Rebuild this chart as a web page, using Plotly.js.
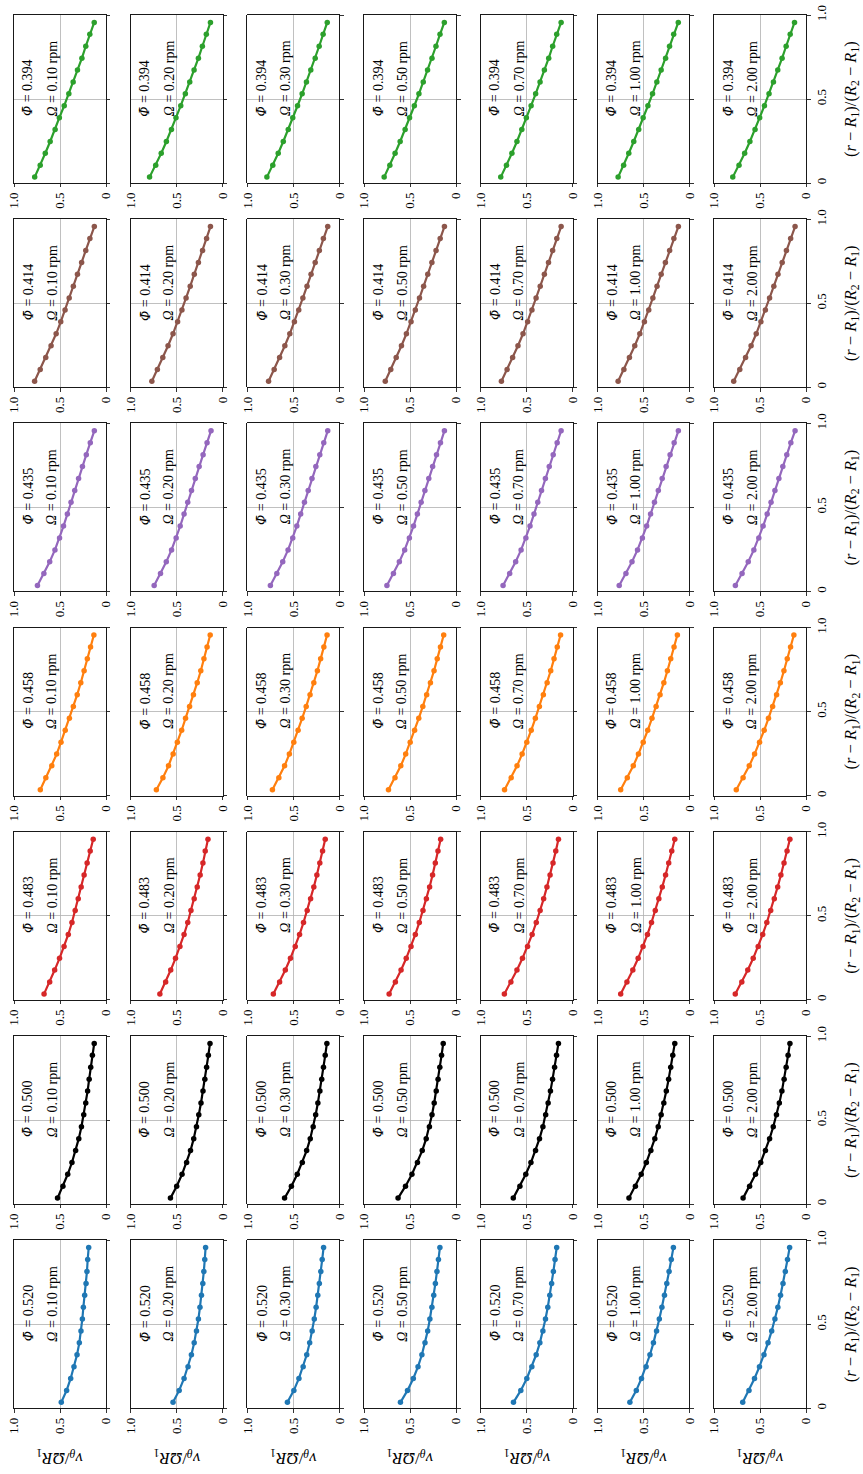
<!DOCTYPE html>
<html>
<head>
<meta charset="utf-8">
<script src="https://cdn.plot.ly/plotly-3.0.1.min.js"></script>
<style>
html,body{margin:0;padding:0;background:#fff;}
#chart{width:863px;height:1474px;}
</style>
</head>
<body>
<div id="chart"></div>
<script>
// radial positions (r - R1)/(R2 - R1) of the measured points
const rPos = [0.035,0.106,0.177,0.247,0.318,0.389,0.460,0.531,0.601,0.672,0.743,0.814,0.885,0.956];
const rTickVals = [0, 0.5, 1];
const rTickText = ['0', '0.5', '1.0'];
const vTickVals = [0, 0.5, 1];
const vTickText = ['0', '0.5', '1.0'];
const omegaLabels = ['0.10','0.20','0.30','0.50','0.70','1.00','2.00'];
const phiLabels = ['0.394','0.414','0.435','0.458','0.483','0.500','0.520'];
const rowColors = ['#2ca02c','#8c564b','#9467bd','#ff7f0e','#d62728','#000000','#1f77b4'];

// v_theta / (Omega R1), one list per Omega (0.10 ... 2.00 rpm)
const v_phi0394 = [
  [0.775,0.715,0.660,0.607,0.553,0.507,0.454,0.404,0.357,0.310,0.262,0.220,0.176,0.128],
  [0.795,0.728,0.668,0.612,0.557,0.508,0.456,0.406,0.358,0.311,0.264,0.221,0.178,0.133],
  [0.788,0.724,0.665,0.610,0.556,0.507,0.455,0.405,0.358,0.311,0.263,0.220,0.177,0.132],
  [0.782,0.720,0.663,0.608,0.554,0.506,0.454,0.404,0.357,0.310,0.262,0.219,0.175,0.128],
  [0.783,0.721,0.662,0.607,0.554,0.505,0.453,0.404,0.356,0.309,0.262,0.219,0.175,0.127],
  [0.776,0.716,0.660,0.606,0.552,0.504,0.452,0.402,0.355,0.308,0.260,0.217,0.172,0.122],
  [0.798,0.730,0.669,0.612,0.556,0.506,0.454,0.404,0.356,0.309,0.262,0.218,0.174,0.127]
];
const v_phi0414 = [
  [0.776,0.715,0.655,0.597,0.542,0.492,0.445,0.400,0.355,0.310,0.265,0.220,0.175,0.127],
  [0.770,0.710,0.651,0.594,0.540,0.490,0.443,0.398,0.353,0.309,0.264,0.219,0.175,0.133],
  [0.770,0.709,0.650,0.593,0.539,0.489,0.442,0.397,0.352,0.308,0.263,0.218,0.174,0.127],
  [0.770,0.710,0.651,0.594,0.540,0.490,0.443,0.398,0.353,0.308,0.263,0.218,0.173,0.127],
  [0.776,0.714,0.654,0.596,0.541,0.491,0.444,0.399,0.354,0.309,0.264,0.219,0.174,0.127],
  [0.776,0.713,0.653,0.595,0.540,0.490,0.443,0.398,0.353,0.308,0.262,0.216,0.170,0.121],
  [0.788,0.722,0.659,0.599,0.543,0.492,0.444,0.398,0.352,0.307,0.261,0.215,0.169,0.121]
];
const v_phi0435 = [
  [0.745,0.675,0.612,0.555,0.505,0.462,0.420,0.380,0.340,0.298,0.256,0.214,0.171,0.127],
  [0.745,0.676,0.613,0.556,0.506,0.462,0.420,0.380,0.339,0.298,0.256,0.213,0.170,0.127],
  [0.750,0.680,0.616,0.558,0.507,0.463,0.421,0.380,0.339,0.298,0.256,0.213,0.170,0.127],
  [0.752,0.681,0.617,0.559,0.508,0.463,0.421,0.380,0.339,0.297,0.255,0.213,0.170,0.127],
  [0.758,0.686,0.621,0.562,0.510,0.465,0.422,0.381,0.340,0.298,0.256,0.213,0.170,0.127],
  [0.764,0.691,0.625,0.565,0.512,0.466,0.423,0.381,0.339,0.297,0.254,0.211,0.167,0.121],
  [0.770,0.697,0.630,0.569,0.515,0.468,0.424,0.382,0.340,0.297,0.254,0.211,0.167,0.121]
];
const v_phi0458 = [
  [0.714,0.654,0.589,0.536,0.489,0.443,0.398,0.355,0.313,0.274,0.238,0.203,0.168,0.132],
  [0.721,0.650,0.589,0.539,0.493,0.446,0.404,0.360,0.318,0.277,0.238,0.204,0.170,0.136],
  [0.728,0.658,0.596,0.544,0.496,0.449,0.405,0.361,0.319,0.278,0.239,0.204,0.169,0.134],
  [0.735,0.664,0.601,0.548,0.499,0.451,0.406,0.362,0.320,0.279,0.240,0.205,0.170,0.135],
  [0.742,0.670,0.606,0.551,0.500,0.452,0.407,0.363,0.320,0.279,0.240,0.204,0.169,0.133],
  [0.748,0.676,0.611,0.555,0.503,0.454,0.408,0.363,0.320,0.279,0.240,0.204,0.168,0.132],
  [0.760,0.686,0.619,0.561,0.507,0.457,0.410,0.365,0.322,0.281,0.242,0.206,0.170,0.134]
];
const v_phi0483 = [
  [0.673,0.612,0.558,0.505,0.456,0.410,0.370,0.335,0.302,0.270,0.238,0.205,0.172,0.139],
  [0.683,0.620,0.565,0.513,0.465,0.420,0.380,0.345,0.310,0.277,0.245,0.215,0.190,0.160],
  [0.718,0.650,0.588,0.532,0.480,0.433,0.390,0.350,0.313,0.278,0.245,0.213,0.183,0.154],
  [0.728,0.660,0.598,0.542,0.490,0.443,0.400,0.360,0.323,0.288,0.256,0.226,0.197,0.168],
  [0.744,0.673,0.607,0.547,0.492,0.442,0.397,0.355,0.317,0.281,0.247,0.215,0.185,0.156],
  [0.748,0.680,0.616,0.558,0.505,0.457,0.413,0.372,0.333,0.296,0.260,0.226,0.193,0.160],
  [0.771,0.700,0.635,0.576,0.522,0.473,0.428,0.386,0.347,0.310,0.275,0.241,0.208,0.177]
];
const v_phi0500 = [
  [0.527,0.468,0.416,0.370,0.330,0.296,0.267,0.242,0.220,0.200,0.183,0.166,0.148,0.128],
  [0.568,0.500,0.442,0.392,0.350,0.315,0.285,0.260,0.236,0.214,0.194,0.175,0.156,0.138],
  [0.596,0.522,0.458,0.403,0.356,0.317,0.285,0.258,0.234,0.212,0.192,0.173,0.154,0.136],
  [0.631,0.550,0.480,0.420,0.368,0.325,0.290,0.262,0.238,0.216,0.196,0.177,0.158,0.140],
  [0.647,0.575,0.511,0.455,0.405,0.362,0.325,0.295,0.268,0.243,0.220,0.198,0.177,0.156],
  [0.658,0.588,0.525,0.469,0.420,0.377,0.340,0.308,0.279,0.252,0.227,0.204,0.182,0.160],
  [0.686,0.615,0.551,0.494,0.443,0.398,0.358,0.323,0.292,0.264,0.240,0.218,0.197,0.177]
];
const v_phi0520 = [
  [0.486,0.428,0.384,0.348,0.315,0.290,0.272,0.257,0.246,0.232,0.217,0.207,0.199,0.188],
  [0.540,0.473,0.420,0.377,0.340,0.310,0.285,0.264,0.247,0.231,0.216,0.205,0.195,0.186],
  [0.565,0.495,0.440,0.394,0.355,0.323,0.296,0.273,0.253,0.235,0.218,0.202,0.187,0.172],
  [0.605,0.528,0.465,0.414,0.372,0.338,0.309,0.285,0.263,0.243,0.225,0.208,0.192,0.176],
  [0.645,0.565,0.500,0.445,0.398,0.358,0.325,0.297,0.272,0.250,0.230,0.211,0.193,0.175],
  [0.648,0.578,0.522,0.472,0.430,0.392,0.358,0.328,0.300,0.272,0.247,0.222,0.198,0.175],
  [0.690,0.622,0.562,0.508,0.459,0.415,0.375,0.340,0.308,0.279,0.252,0.227,0.203,0.180]
];
const vRows = [v_phi0394, v_phi0414, v_phi0435, v_phi0458, v_phi0483, v_phi0500, v_phi0520];

// ---- geometry (pixels of the 863 x 1474 page) ----
const W = 863, H = 1474;
const colX0 = 14, colPitch = 116.7, colW = 92;
const rowY0 = 15, rowPitch = 204.2, rowH = 168;
const serif = '"Liberation Serif", "Times New Roman", serif';
const phiGlyph = '<span style="font-family:\'DejaVu Serif\';font-style:italic;font-size:12.5px">Φ̄</span>';

const traces = [];
const layout = {
  width: W, height: H,
  margin: {l: 0, r: 0, t: 0, b: 0, pad: 0},
  paper_bgcolor: '#ffffff', plot_bgcolor: '#ffffff',
  showlegend: false,
  font: {family: serif, size: 13, color: '#000'},
  annotations: []
};

for (let i = 0; i < 7; i++) {
  for (let k = 0; k < 7; k++) {
    const n = i * 7 + k + 1;
    const xs = n === 1 ? '' : String(n);
    const x0 = (colX0 + colPitch * k) / W;
    const x1 = (colX0 + colPitch * k + colW) / W;
    const top = rowY0 + rowPitch * i;
    const y1 = 1 - top / H;
    const y0 = 1 - (top + rowH) / H;
    layout['xaxis' + xs] = {
      domain: [x0, x1], anchor: 'y' + xs, range: [1, 0],
      tickmode: 'array', tickvals: vTickVals, ticktext: vTickText,
      tickangle: -90, ticks: 'outside', ticklen: 3.5, tickwidth: 0.8, tickcolor: '#000',
      showline: true, mirror: true, linecolor: '#000', linewidth: 0.9,
      showgrid: true, gridcolor: '#b0b0b0', gridwidth: 0.8, zeroline: false,
      tickfont: {family: serif, size: 13, color: '#000'}, fixedrange: true
    };
    const yax = {
      domain: [y0, y1], anchor: 'x' + xs, range: [0, 1], side: 'right',
      tickmode: 'array', tickvals: rTickVals,
      ticks: 'outside', ticklen: 3.5, tickwidth: 0.8, tickcolor: '#000',
      showline: true, mirror: true, linecolor: '#000', linewidth: 0.9,
      showgrid: true, gridcolor: '#b0b0b0', gridwidth: 0.8, zeroline: false,
      fixedrange: true
    };
    if (k === 6) {
      yax.ticktext = rTickText;
      yax.showticklabels = true;
      yax.tickangle = -90;
      yax.tickfont = {family: serif, size: 13, color: '#000'};
    } else {
      yax.showticklabels = false;
    }
    layout['yaxis' + xs] = yax;
    traces.push({
      type: 'scatter', mode: 'lines+markers',
      x: vRows[i][k], y: rPos,
      xaxis: 'x' + xs, yaxis: 'y' + xs,
      line: {color: rowColors[i], width: 2.2},
      marker: {color: rowColors[i], size: 5.5},
      hoverinfo: 'skip', cliponaxis: false
    });
    layout.annotations.push({
      xref: 'x' + xs, yref: 'y' + xs, x: 0.845, y: 0.385,
      xanchor: 'center', yanchor: 'bottom', textangle: -90, showarrow: false,
      text: phiGlyph + ' = ' + phiLabels[i],
      font: {family: serif, size: 14, color: '#000'}
    });
    layout.annotations.push({
      xref: 'x' + xs, yref: 'y' + xs, x: 0.585, y: 0.385,
      xanchor: 'center', yanchor: 'bottom', textangle: -90, showarrow: false,
      text: '<i>Ω</i> = ' + omegaLabels[k] + ' rpm',
      font: {family: serif, size: 14, color: '#000'}
    });
  }
}

// axis titles (figure is turned a quarter turn)
for (let k = 0; k < 7; k++) {
  const cx = (colX0 + colPitch * k + colW / 2) / W;
  layout.annotations.push({
    xref: 'paper', yref: 'paper', x: cx, y: 1 - 1457 / H,
    xanchor: 'center', yanchor: 'middle', textangle: 180, showarrow: false,
    text: '<i>v</i><sub><i>θ</i></sub>/<i>ΩR</i><sub>1</sub>',
    font: {family: serif, size: 17, color: '#000'}
  });
}
for (let i = 0; i < 7; i++) {
  const cy = 1 - (rowY0 + rowPitch * i + rowH / 2) / H;
  layout.annotations.push({
    xref: 'paper', yref: 'paper', x: 851 / W, y: cy,
    xanchor: 'center', yanchor: 'middle', textangle: -90, showarrow: false,
    text: '(<i>r</i> − <i>R</i><sub>1</sub>)/(<i>R</i><sub>2</sub> − <i>R</i><sub>1</sub>)',
    font: {family: serif, size: 16.5, color: '#000'}
  });
}

Plotly.newPlot('chart', traces, layout, {staticPlot: true, displayModeBar: false});
</script>
</body>
</html>
